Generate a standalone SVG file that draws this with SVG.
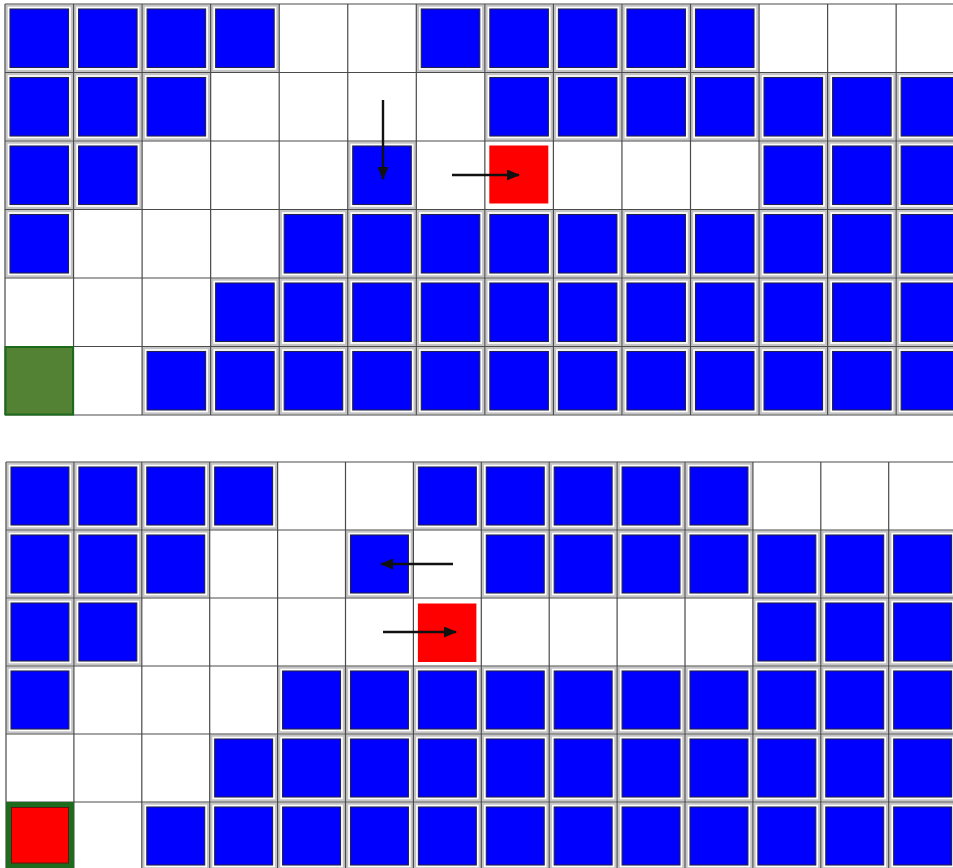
<svg xmlns="http://www.w3.org/2000/svg" xmlns:xlink="http://www.w3.org/1999/xlink" width="953" height="868" viewBox="0 0 953 868">
<style>
.halo{fill:#fff;stroke:#c4c4c4;stroke-width:2.2}
.blue{fill:#0000ff;stroke:#20204a;stroke-width:1.1}
.grid{fill:none;stroke:#4a4a4a;stroke-width:1.2}
.red{fill:#ff0000}
.arrow{stroke:#111;stroke-width:2.4;fill:none;marker-end:url(#ah)}
</style>
<defs>
<marker id="ah" markerUnits="userSpaceOnUse" markerWidth="13" markerHeight="11" refX="12" refY="5.5" orient="auto"><path d="M0,0 L13,5.5 L0,11 z" fill="#111"/></marker>
<g id="bt"><rect class="halo" x="1.6" y="1.6" width="65.3" height="65.3"/><rect class="blue" x="5" y="5" width="58.5" height="58.5"/></g>
<g id="bb"><rect class="halo" x="1.6" y="1.6" width="64.7" height="64.8"/><rect class="blue" x="5" y="5" width="57.9" height="58"/></g>
</defs>
<rect x="0" y="0" width="953" height="868" fill="#fff"/>

<g id="top-grid">
<g id="top-cells">
<use href="#bt" x="5" y="4"/><use href="#bt" x="73.55" y="4"/><use href="#bt" x="142.1" y="4"/><use href="#bt" x="210.65" y="4"/>
<use href="#bt" x="416.3" y="4"/><use href="#bt" x="484.85" y="4"/><use href="#bt" x="553.4" y="4"/><use href="#bt" x="621.95" y="4"/><use href="#bt" x="690.5" y="4"/>

<use href="#bt" x="5" y="72.5"/><use href="#bt" x="73.55" y="72.5"/><use href="#bt" x="142.1" y="72.5"/>
<use href="#bt" x="484.85" y="72.5"/><use href="#bt" x="553.4" y="72.5"/><use href="#bt" x="621.95" y="72.5"/><use href="#bt" x="690.5" y="72.5"/><use href="#bt" x="759.05" y="72.5"/><use href="#bt" x="827.6" y="72.5"/><use href="#bt" x="896.15" y="72.5"/>

<use href="#bt" x="5" y="141"/><use href="#bt" x="73.55" y="141"/>
<use href="#bt" x="759.05" y="141"/><use href="#bt" x="827.6" y="141"/><use href="#bt" x="896.15" y="141"/>

<use href="#bt" x="5" y="209.5"/>
<use href="#bt" x="279.2" y="209.5"/><use href="#bt" x="347.75" y="209.5"/><use href="#bt" x="416.3" y="209.5"/><use href="#bt" x="484.85" y="209.5"/><use href="#bt" x="553.4" y="209.5"/><use href="#bt" x="621.95" y="209.5"/><use href="#bt" x="690.5" y="209.5"/><use href="#bt" x="759.05" y="209.5"/><use href="#bt" x="827.6" y="209.5"/><use href="#bt" x="896.15" y="209.5"/>

<use href="#bt" x="210.65" y="278"/><use href="#bt" x="279.2" y="278"/><use href="#bt" x="347.75" y="278"/><use href="#bt" x="416.3" y="278"/><use href="#bt" x="484.85" y="278"/><use href="#bt" x="553.4" y="278"/><use href="#bt" x="621.95" y="278"/><use href="#bt" x="690.5" y="278"/><use href="#bt" x="759.05" y="278"/><use href="#bt" x="827.6" y="278"/><use href="#bt" x="896.15" y="278"/>

<use href="#bt" x="142.1" y="346.5"/><use href="#bt" x="210.65" y="346.5"/><use href="#bt" x="279.2" y="346.5"/><use href="#bt" x="347.75" y="346.5"/><use href="#bt" x="416.3" y="346.5"/><use href="#bt" x="484.85" y="346.5"/><use href="#bt" x="553.4" y="346.5"/><use href="#bt" x="621.95" y="346.5"/><use href="#bt" x="690.5" y="346.5"/><use href="#bt" x="759.05" y="346.5"/><use href="#bt" x="827.6" y="346.5"/><use href="#bt" x="896.15" y="346.5"/>
</g>
<g id="top-moved"><use href="#bt" x="347.75" y="141"/></g>
<path class="grid" d="M5 4V415M73.55 4V415M142.1 4V415M210.65 4V415M279.2 4V415M347.75 4V415M416.3 4V415M484.85 4V415M553.4 4V415M621.95 4V415M690.5 4V415M759.05 4V415M827.6 4V415M896.15 4V415
M5 4H953M5 72.5H953M5 141H953M5 209.5H953M5 278H953M5 346.5H953M5 415H953"/>
<g id="top-red"><rect class="red" x="489.3" y="145.5" width="59" height="58"/></g>
<g id="top-green"><rect x="5.5" y="347" width="67.5" height="67.5" fill="#548235" stroke="#1b6b1b" stroke-width="2"/></g>
</g>

<g id="bottom-grid">
<g id="bottom-cells">
<use href="#bb" x="6" y="462"/><use href="#bb" x="73.9" y="462"/><use href="#bb" x="141.8" y="462"/><use href="#bb" x="209.7" y="462"/>
<use href="#bb" x="413.4" y="462"/><use href="#bb" x="481.3" y="462"/><use href="#bb" x="549.2" y="462"/><use href="#bb" x="617.1" y="462"/><use href="#bb" x="685" y="462"/>

<use href="#bb" x="6" y="530"/><use href="#bb" x="73.9" y="530"/><use href="#bb" x="141.8" y="530"/>
<use href="#bb" x="481.3" y="530"/><use href="#bb" x="549.2" y="530"/><use href="#bb" x="617.1" y="530"/><use href="#bb" x="685" y="530"/><use href="#bb" x="752.9" y="530"/><use href="#bb" x="820.8" y="530"/><use href="#bb" x="888.7" y="530"/>

<use href="#bb" x="6" y="598"/><use href="#bb" x="73.9" y="598"/>
<use href="#bb" x="752.9" y="598"/><use href="#bb" x="820.8" y="598"/><use href="#bb" x="888.7" y="598"/>

<use href="#bb" x="6" y="666"/>
<use href="#bb" x="277.6" y="666"/><use href="#bb" x="345.5" y="666"/><use href="#bb" x="413.4" y="666"/><use href="#bb" x="481.3" y="666"/><use href="#bb" x="549.2" y="666"/><use href="#bb" x="617.1" y="666"/><use href="#bb" x="685" y="666"/><use href="#bb" x="752.9" y="666"/><use href="#bb" x="820.8" y="666"/><use href="#bb" x="888.7" y="666"/>

<use href="#bb" x="209.7" y="734"/><use href="#bb" x="277.6" y="734"/><use href="#bb" x="345.5" y="734"/><use href="#bb" x="413.4" y="734"/><use href="#bb" x="481.3" y="734"/><use href="#bb" x="549.2" y="734"/><use href="#bb" x="617.1" y="734"/><use href="#bb" x="685" y="734"/><use href="#bb" x="752.9" y="734"/><use href="#bb" x="820.8" y="734"/><use href="#bb" x="888.7" y="734"/>

<use href="#bb" x="141.8" y="802"/><use href="#bb" x="209.7" y="802"/><use href="#bb" x="277.6" y="802"/><use href="#bb" x="345.5" y="802"/><use href="#bb" x="413.4" y="802"/><use href="#bb" x="481.3" y="802"/><use href="#bb" x="549.2" y="802"/><use href="#bb" x="617.1" y="802"/><use href="#bb" x="685" y="802"/><use href="#bb" x="752.9" y="802"/><use href="#bb" x="820.8" y="802"/><use href="#bb" x="888.7" y="802"/>
</g>
<g id="bottom-moved"><use href="#bb" x="345.5" y="530"/></g>
<path class="grid" d="M6 462V868M73.9 462V868M141.8 462V868M209.7 462V868M277.6 462V868M345.5 462V868M413.4 462V868M481.3 462V868M549.2 462V868M617.1 462V868M685 462V868M752.9 462V868M820.8 462V868M888.7 462V868
M6 462H953M6 530H953M6 598H953M6 666H953M6 734H953M6 802H953"/>
<g id="bottom-red"><rect class="red" x="417.9" y="603.5" width="58.5" height="58.5"/></g>
<g id="bottom-goal"><rect x="6" y="802" width="68" height="68" fill="#1d6b1d"/><rect class="red" x="11.5" y="807.5" width="57" height="55.5" stroke="#6a1010" stroke-width="1"/></g>
</g>

<g id="connectors">
<line class="arrow" x1="383" y1="100" x2="383" y2="179"/>
<line class="arrow" x1="452" y1="175" x2="519" y2="175"/>
<line class="arrow" x1="453" y1="564" x2="381" y2="564"/>
<line class="arrow" x1="383" y1="632" x2="456" y2="632"/>
</g>
</svg>
